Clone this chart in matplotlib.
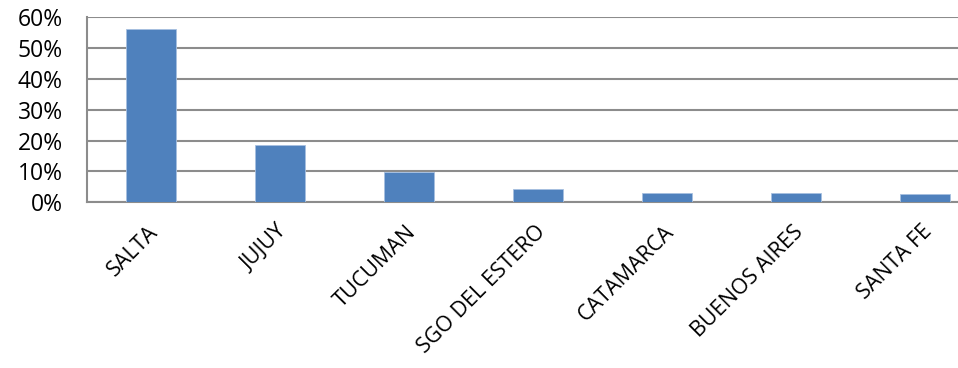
import matplotlib
matplotlib.use('Agg')
import matplotlib.pyplot as plt
import matplotlib.transforms as mtransforms
from matplotlib.ticker import FuncFormatter, MultipleLocator

# datos del gráfico
provincias = ['SALTA', 'JUJUY', 'TUCUMAN', 'SGO DEL ESTERO',
              'CATAMARCA', 'BUENOS AIRES', 'SANTA FE']
porcentajes = [56.3, 18.6, 9.8, 4.25, 3.0, 2.9, 2.6]

plt.rcParams['font.family'] = ['Open Sans', 'DejaVu Sans']

fig = plt.figure(figsize=(9.58, 3.68), dpi=100)
# el área del gráfico se sale un poco por la derecha, como en el original
ax = fig.add_axes([86.5 / 958, 1 - 202.3 / 368, 903 / 958, 185 / 368])

x = list(range(len(provincias)))
ax.bar(x, porcentajes, width=0.395, color='#4F81BD', edgecolor='#A7C0E0',
       linewidth=0.6, zorder=3)

ax.set_xlim(-0.5, len(provincias) - 0.5)
ax.set_ylim(0, 60)
ax.yaxis.set_major_locator(MultipleLocator(10))
ax.yaxis.set_major_formatter(FuncFormatter(lambda v, p: '%d%%' % v))
ax.grid(axis='y', color='#8C8C8C', linewidth=1.5, zorder=0)

# solo eje izquierdo e inferior
for lado in ['top', 'right']:
    ax.spines[lado].set_visible(False)
for lado in ['left', 'bottom']:
    ax.spines[lado].set_color('#8C8C8C')
    ax.spines[lado].set_linewidth(1.5)

ax.tick_params(axis='y', length=0, labelsize=16.5, pad=17)
ax.tick_params(axis='x', length=0, pad=19)
ax.set_xticks(x)
ax.set_xticklabels(provincias, rotation=45, ha='right', va='center',
                   rotation_mode='anchor', fontsize=15.5)

# corrimiento horizontal de las etiquetas
desplazamiento = mtransforms.ScaledTranslation(0.04, 0, fig.dpi_scale_trans)
for etiqueta in ax.get_xticklabels():
    etiqueta.set_transform(etiqueta.get_transform() + desplazamiento)

fig.savefig('out.png', dpi=100)
